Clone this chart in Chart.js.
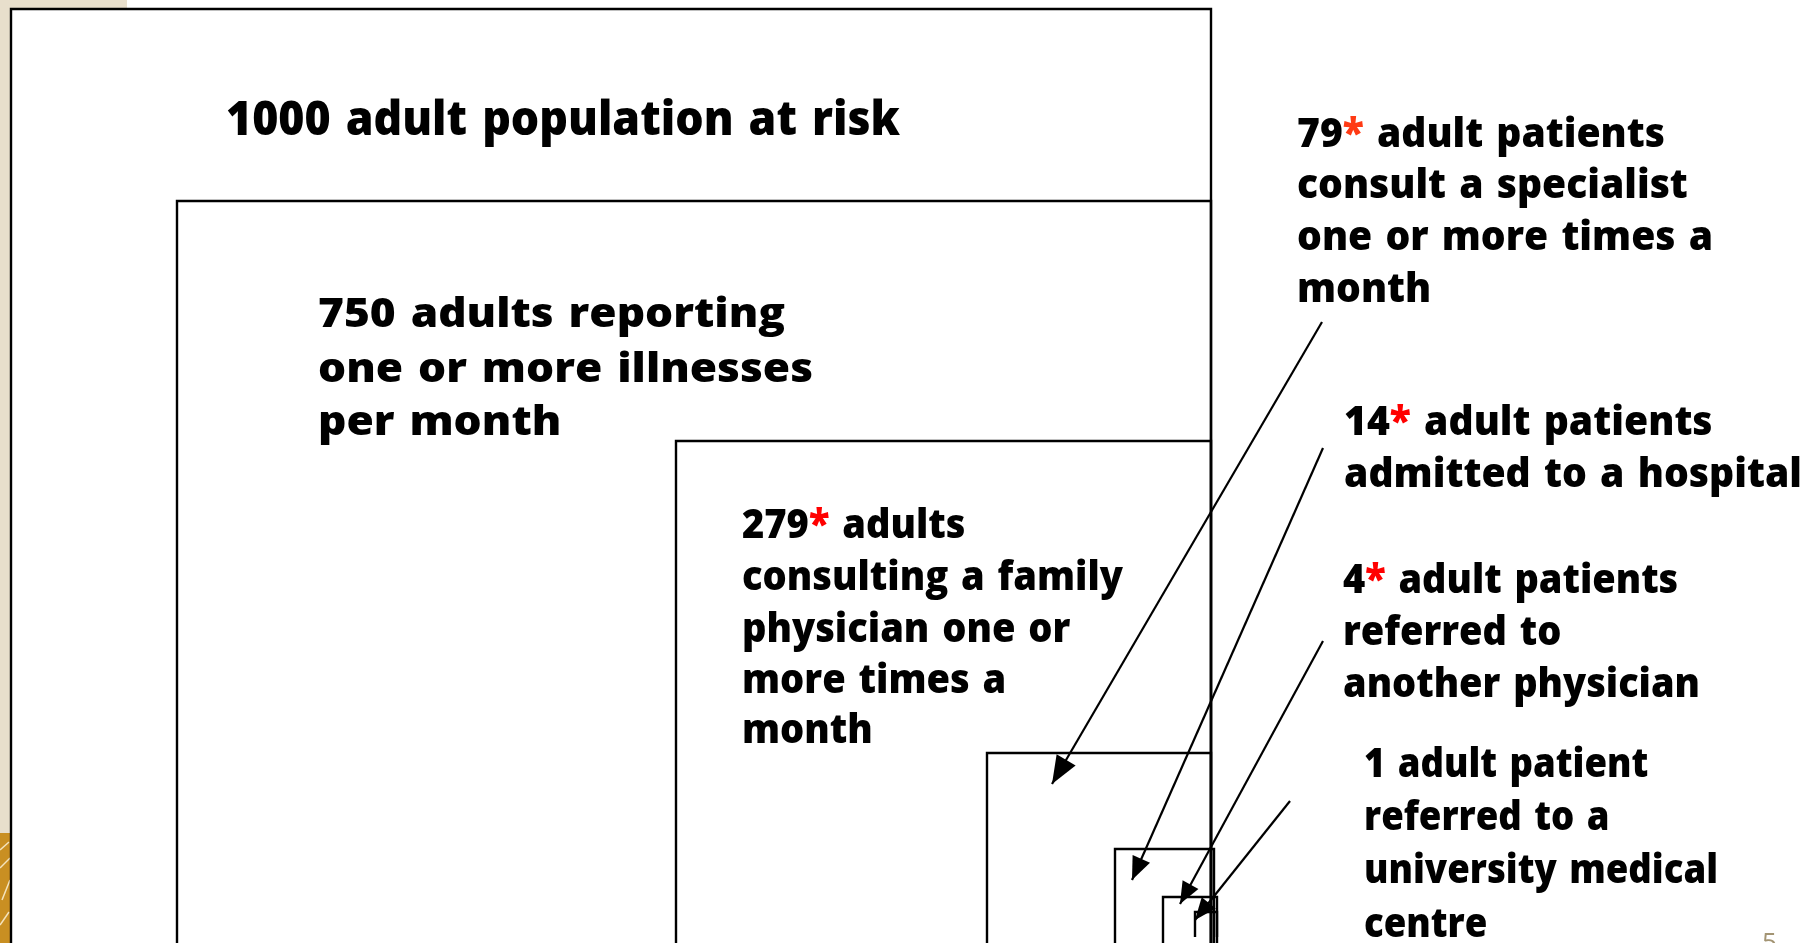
<!DOCTYPE html>
<html><head><meta charset="utf-8">
<script src="https://cdn.jsdelivr.net/npm/chart.js@4/dist/chart.umd.min.js"></script>
<style>html,body{margin:0;padding:0;background:#fff;overflow:hidden}canvas{display:block}</style>
</head><body>
<canvas id="c" width="1810" height="943"></canvas>
<script>
// ---------------- data ----------------
const levels = ['population at risk', 'reporting illness', 'family physician', 'specialist', 'hospital', 'other physician', 'university medical centre'];
const counts = [1000, 750, 279, 79, 14, 4, 1];
const estimated = [false, false, true, true, true, true, false];
const labelText = [
  ['adult population at risk'],
  ['adults reporting', 'one or more illnesses', 'per month'],
  ['adults', 'consulting a family', 'physician one or', 'more times a', 'month'],
  ['adult patients', 'consult a specialist', 'one or more times a', 'month'],
  ['adult patients', 'admitted to a hospital'],
  ['adult patients', 'referred to', 'another physician'],
  ['adult patient', 'referred to a', 'university medical', 'centre']
];
const pageNumber = '5';

// ---------------- layout (slide units, 0..1810 x 0..943) ----------------
const boxLeft   = [11, 177, 676, 987, 1115, 1163, 1195];
const boxTop    = [9, 201, 441, 753, 849, 897, 912];
const boxRight  = [1211, 1211, 1211, 1211, 1214, 1217, 1217];
const boxBottom = [980, 980, 980, 980, 980, 980, 937];

const textX = [226, 318, 742, 1297, 1344, 1343, 1364];
const textBaselines = [
  [135], [327, 382, 435], [538, 590, 642, 693, 743], [147, 198, 250, 302],
  [435, 487], [593, 645, 697], [777, 830, 883, 937]
];
const textSize = [47, 41, 41, 41, 41, 41, 41];
const textRefLine = [0, 1, 1, 2, 1, 2, 2];
const textRefRight = [900, 813, 1123, 1713, 1802, 1700, 1718];
const starColor = ['#ff0000', '#ff0000', '#ff0000', '#ff3a14', '#ff0000', '#ff0000', '#ff0000'];
const wordGapFactor = 1.3;

// arrows from label i (levels 3..6) to their box
const arrowLevel = [3, 4, 5, 6];
const arrowFromX = [1322, 1323, 1323, 1290];
const arrowFromY = [322, 448, 641, 801];
const arrowToX   = [1052, 1132, 1180, 1195];
const arrowToY   = [784, 880, 904, 920];
const arrowHeadLen = [28, 23, 22, 22];
const arrowHeadWid = [22, 19, 18, 18];

const FONT = '"Open Sans", "DejaVu Sans", sans-serif';

// ---------------- datasets ----------------
const datasets = [];
levels.forEach((name, i) => {
  datasets.push({
    label: name + ' (' + counts[i] + ')',
    kind: 'box', level: i,
    data: [
      {x: boxLeft[i], y: boxBottom[i]},
      {x: boxLeft[i], y: boxTop[i]},
      {x: boxRight[i], y: boxTop[i]},
      {x: boxRight[i], y: boxBottom[i]}
    ],
    showLine: true, borderColor: '#000', borderWidth: 2.4,
    pointRadius: 0, tension: 0, fill: false,
    borderJoinStyle: 'miter'
  });
});
arrowLevel.forEach((lv, k) => {
  datasets.push({
    label: 'arrow ' + levels[lv],
    kind: 'arrow', idx: k,
    data: [{x: arrowFromX[k], y: arrowFromY[k]}, {x: arrowToX[k], y: arrowToY[k]}],
    showLine: true, borderColor: '#000', borderWidth: 2.2,
    pointRadius: 0, tension: 0, fill: false
  });
});

// ---------------- plugins ----------------
const slidePlugin = {
  id: 'slide',
  beforeDatasetsDraw(chart) {
    const ctx = chart.ctx, xs = chart.scales.x, ys = chart.scales.y;
    ctx.save();
    ctx.fillStyle = '#e8dfcc';
    ctx.fillRect(xs.getPixelForValue(0), ys.getPixelForValue(0), xs.getPixelForValue(127), ys.getPixelForValue(943));
    ctx.fillStyle = '#c98f22';
    ctx.fillRect(xs.getPixelForValue(0), ys.getPixelForValue(833), xs.getPixelForValue(11), ys.getPixelForValue(943) - ys.getPixelForValue(833));
    ctx.strokeStyle = '#f4e3bd'; ctx.lineWidth = 1.5;
    [[0,850,9,842],[0,868,10,858],[2,900,10,880],[0,925,9,912]].forEach(s => {
      ctx.beginPath();
      ctx.moveTo(xs.getPixelForValue(s[0]), ys.getPixelForValue(s[1]));
      ctx.lineTo(xs.getPixelForValue(s[2]), ys.getPixelForValue(s[3]));
      ctx.stroke();
    });
    chart.data.datasets.forEach((ds, di) => {
      if (ds.kind !== 'box') return;
      const pts = chart.getDatasetMeta(di).data;
      ctx.fillStyle = '#ffffff';
      ctx.fillRect(pts[1].x, pts[1].y, pts[2].x - pts[1].x, pts[0].y - pts[1].y);
    });
    ctx.restore();
  },
  afterDatasetsDraw(chart) {
    const ctx = chart.ctx, xs = chart.scales.x, ys = chart.scales.y;
    ctx.save();
    chart.data.datasets.forEach((ds, di) => {
      if (ds.kind !== 'arrow') return;
      const pts = chart.getDatasetMeta(di).data;
      const a = pts[0], b = pts[1];
      const dx = b.x - a.x, dy = b.y - a.y, L = Math.hypot(dx, dy);
      const ux = dx / L, uy = dy / L;
      const hl = arrowHeadLen[ds.idx], hw = arrowHeadWid[ds.idx] / 2;
      const bx = b.x - ux * hl, by = b.y - uy * hl;
      ctx.fillStyle = '#000';
      ctx.beginPath();
      ctx.moveTo(b.x, b.y);
      ctx.lineTo(bx - uy * hw, by + ux * hw);
      ctx.lineTo(bx + uy * hw, by - ux * hw);
      ctx.closePath();
      ctx.fill();
    });
    ctx.textBaseline = 'alphabetic';
    levels.forEach((name, i) => {
      ctx.font = '800 ' + textSize[i] + 'px ' + FONT;
      const gap = ctx.measureText(' ').width * wordGapFactor;
      const lines = labelText[i].map((t, li) => {
        const words = t.split(' ').map(wd => [{t: wd, c: '#000'}]);
        if (li === 0) {
          const first = [{t: String(counts[i]), c: '#000'}];
          if (estimated[i]) first.push({t: '*', c: starColor[i]});
          words.unshift(first);
        }
        return words;
      });
      const wWord = segs => segs.reduce((s, g) => s + ctx.measureText(g.t).width, 0);
      const wLine = words => words.reduce((s, wd) => s + wWord(wd), 0) + gap * (words.length - 1);
      const x0 = xs.getPixelForValue(textX[i]);
      const target = xs.getPixelForValue(textRefRight[i]) - x0;
      const sx = target / wLine(lines[textRefLine[i]]);
      lines.forEach((words, li) => {
        ctx.save();
        ctx.translate(x0, ys.getPixelForValue(textBaselines[i][li]));
        ctx.scale(sx, 1);
        let cx = 0;
        words.forEach(segs => {
          segs.forEach(g => {
            ctx.fillStyle = g.c;
            ctx.fillText(g.t, cx, 0);
            cx += ctx.measureText(g.t).width;
          });
          cx += gap;
        });
        ctx.restore();
      });
    });
    ctx.fillStyle = '#a39473';
    ctx.font = '26px ' + FONT;
    ctx.fillText(pageNumber, xs.getPixelForValue(1762), ys.getPixelForValue(951));
    ctx.restore();
  }
};

new Chart(document.getElementById('c'), {
  type: 'scatter',
  data: { datasets },
  options: {
    responsive: false, animation: false, devicePixelRatio: 1,
    layout: { padding: 0 },
    events: [],
    scales: {
      x: { type: 'linear', min: 0, max: 1810, display: false },
      y: { type: 'linear', min: 0, max: 943, reverse: true, display: false }
    },
    plugins: { legend: { display: false }, tooltip: { enabled: false } }
  },
  plugins: [slidePlugin]
});
</script>
</body></html>
